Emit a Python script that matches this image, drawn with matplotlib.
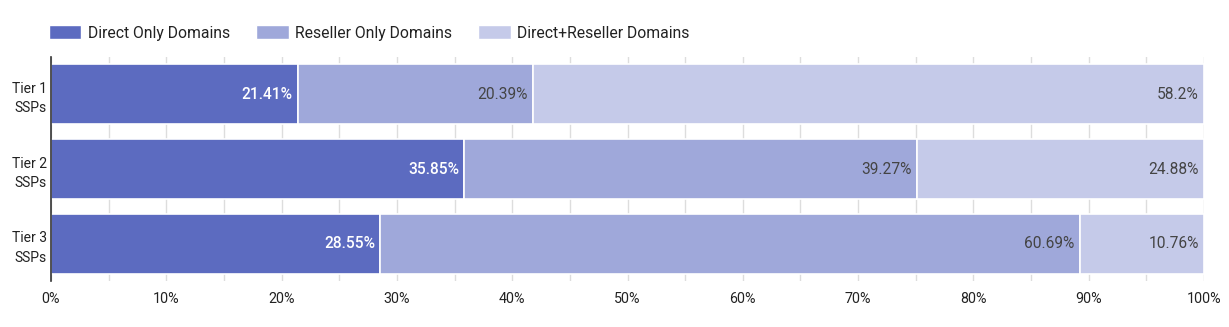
import matplotlib
matplotlib.use("Agg")
import matplotlib.pyplot as plt
from matplotlib.patches import Patch

categories = ["Tier 1\nSSPs", "Tier 2\nSSPs", "Tier 3\nSSPs"]
series_names = ["Direct Only Domains", "Reseller Only Domains", "Direct+Reseller Domains"]
direct_only = [21.41, 35.85, 28.55]
reseller_only = [20.39, 39.27, 60.69]
direct_reseller = [58.2, 24.88, 10.76]
x_ticks = [0, 10, 20, 30, 40, 50, 60, 70, 80, 90, 100]
x_tick_labels = ["0%", "10%", "20%", "30%", "40%", "50%", "60%", "70%", "80%", "90%", "100%"]

colors = ["#5c6bc0", "#9fa8da", "#c5cae9"]
text_colors = ["white", "#444444", "#444444"]

plt.rcParams['font.family'] = ['Roboto', 'DejaVu Sans']

fig = plt.figure(figsize=(12.29, 3.27), dpi=100)
ax = fig.add_axes([51/1229, 1-281/327, (1204-51)/1229, (281-57)/327])

series = [direct_only, reseller_only, direct_reseller]
ypos = list(range(len(categories)))
left = [0]*len(categories)
for s, vals in enumerate(series):
    ax.barh(ypos, vals, left=left, height=0.8, color=colors[s],
            edgecolor="white", linewidth=1.2, label=series_names[s], zorder=3)
    for i, v in enumerate(vals):
        ax.text(left[i] + v - 0.45, ypos[i], f"{v:g}%", ha="right", va="center",
                fontsize=11.2, color=text_colors[s],
                fontweight="medium" if s == 0 else "normal", zorder=4)
    left = [l + v for l, v in zip(left, vals)]

ax.set_xlim(0, 100)
ax.set_ylim(2.5, -0.5)
ax.set_yticks(ypos)
ax.set_yticklabels(categories, fontsize=10, color="#222222", linespacing=1.5)
ax.set_xticks(x_ticks)
ax.set_xticklabels(x_tick_labels, fontsize=10.3, color="#222222")
ax.set_xticks(list(range(5, 100, 10)), minor=True)
ax.grid(axis="x", which="both", color="#dddddd", linewidth=1, zorder=0)
ax.tick_params(axis="x", which="both", length=0, pad=8)
ax.tick_params(axis="y", which="both", length=0, pad=3)
for sp in ["top", "right", "bottom"]:
    ax.spines[sp].set_visible(False)
ax.spines["left"].set_color("#333333")
ax.spines["left"].set_linewidth(1.2)
ax.spines["left"].set_zorder(5)

handles = [Patch(facecolor=c, edgecolor="white") for c in colors]
fig.legend(handles, series_names, loc="center left", bbox_to_anchor=(43/1229, 1-33/327),
           ncol=3, frameon=False, fontsize=11.3, handlelength=2.05, handleheight=0.96,
           handletextpad=0.39, columnspacing=1.7, labelcolor="#222222", borderaxespad=0)

fig.savefig("out.png", dpi=100)
